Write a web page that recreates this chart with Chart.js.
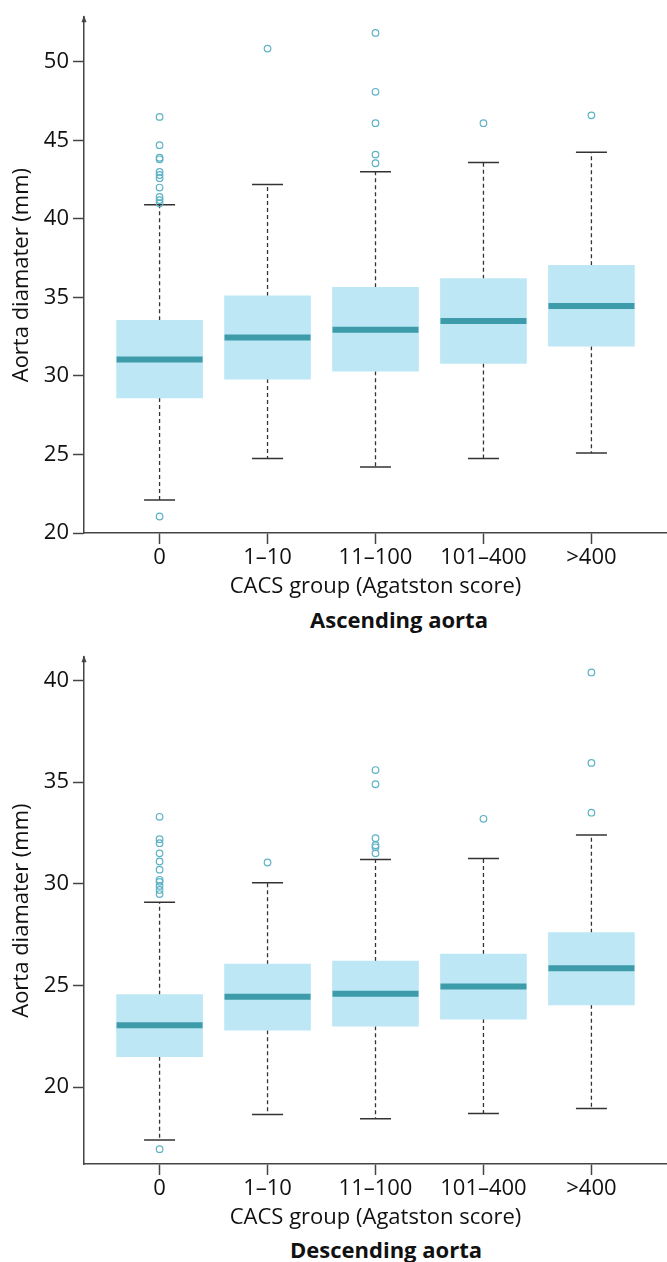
<!DOCTYPE html>
<html>
<head>
<meta charset="utf-8">
<script src="https://cdn.jsdelivr.net/npm/chart.js@4.4.1/dist/chart.umd.min.js"></script>
<style>
  html, body { margin: 0; padding: 0; background: #fff; }
  body { position: relative; width: 667px; height: 1262px; overflow: hidden; font-family: "Open Sans", sans-serif; }
  canvas { position: absolute; left: 0; }
  #ascChart { top: 0; }
  #descChart { top: 640px; }
  .caption { position: absolute; font-weight: bold; font-size: 22px; line-height: 24px; color: #111; transform: translateX(-50%); white-space: nowrap; }
  #ascCaption { left: 399px; top: 607px; }
  #descCaption { left: 386px; top: 1237px; }
</style>
</head>
<body>
<canvas id="ascChart" width="667" height="600"></canvas>
<div id="ascCaption" class="caption">Ascending aorta</div>
<canvas id="descChart" width="667" height="591"></canvas>
<div id="descCaption" class="caption">Descending aorta</div>
<script>
const categories = ["0", "1–10", "11–100", "101–400", ">400"];

// Ascending aorta (mm)
const ascLowWhisker = [22.1, 24.75, 24.2, 24.75, 25.1];
const ascQ1 = [28.6, 29.8, 30.3, 30.8, 31.9];
const ascMedian = [31.05, 32.45, 32.95, 33.5, 34.45];
const ascQ3 = [33.55, 35.1, 35.65, 36.2, 37.05];
const ascHighWhisker = [40.9, 42.2, 43.0, 43.6, 44.25];
const ascOutliers = [
  [21.05, 46.5, 44.7, 43.9, 43.8, 43.0, 42.8, 42.6, 42.0, 41.4, 41.2, 41.0],
  [50.85],
  [51.85, 48.1, 46.1, 44.1, 43.55],
  [46.1],
  [46.6]
];
const ascTicks = [20, 25, 30, 35, 40, 45, 50];

// Descending aorta (mm)
const descLowWhisker = [17.4, 18.65, 18.45, 18.7, 18.95];
const descQ1 = [21.5, 22.8, 23.0, 23.35, 24.05];
const descMedian = [23.05, 24.45, 24.6, 24.95, 25.85];
const descQ3 = [24.55, 26.05, 26.2, 26.55, 27.6];
const descHighWhisker = [29.1, 30.05, 31.2, 31.25, 32.4];
const descOutliers = [
  [16.95, 33.3, 32.2, 32.0, 31.5, 31.1, 30.7, 30.2, 30.1, 29.9, 29.7, 29.5],
  [31.05],
  [35.6, 34.9, 32.25, 31.9, 31.8, 31.5],
  [33.2],
  [40.4, 35.95, 33.5]
];
const descTicks = [20, 25, 30, 35, 40];

const BOX_FILL = "#bde7f5";
const MEDIAN_COLOR = "#3e9ba9";
const OUTLIER_COLOR = "#5db3c6";
const LINE_COLOR = "#333333";
const AXIS_COLOR = "#444444";
const TEXT_COLOR = "#111111";
const FONT = "'Open Sans', sans-serif";

// small arrow head on top of the y axis
const axisArrow = {
  id: "axisArrow",
  afterDraw(chart) {
    const { ctx, chartArea } = chart;
    const x = chartArea.left;
    const y = chartArea.top;
    ctx.save();
    ctx.fillStyle = AXIS_COLOR;
    ctx.beginPath();
    ctx.moveTo(x, y - 2);
    ctx.lineTo(x - 2.5, y + 5);
    ctx.lineTo(x + 2.5, y + 5);
    ctx.closePath();
    ctx.fill();
    ctx.restore();
  }
};

function makePanel(canvasId, lo, q1, med, q3, hi, outliers, yTicks, yMin, yMax, padTop) {
  const boxes = categories.map((c, i) => ({ x: i, y: [q1[i], q3[i]] }));
  const medians = categories.map((c, i) => ({ x: i, y: med[i] }));
  const caps = [];
  const whiskers = [];
  categories.forEach((c, i) => {
    caps.push({ x: i, y: lo[i] }, { x: i, y: hi[i] });
    whiskers.push(
      { x: i, y: q3[i] }, { x: i, y: hi[i] }, { x: i, y: null },
      { x: i, y: q1[i] }, { x: i, y: lo[i] }, { x: i, y: null }
    );
  });
  const points = [];
  outliers.forEach((vals, i) => {
    vals.forEach((v) => points.push({ x: i, y: v }));
  });

  const ctx = document.getElementById(canvasId).getContext("2d");
  return new Chart(ctx, {
    type: "bar",
    data: {
      datasets: [
        {
          type: "bar",
          data: boxes,
          backgroundColor: BOX_FILL,
          borderWidth: 0,
          barThickness: 86,
          order: 3
        },
        {
          type: "line",
          data: whiskers,
          borderColor: LINE_COLOR,
          borderWidth: 1.3,
          borderDash: [4, 3],
          pointRadius: 0,
          spanGaps: false,
          fill: false,
          order: 4
        },
        {
          type: "scatter",
          data: caps,
          pointStyle: "line",
          pointRadius: 15.5,
          borderColor: LINE_COLOR,
          borderWidth: 1.5,
          order: 2
        },
        {
          type: "scatter",
          data: medians,
          pointStyle: "line",
          pointRadius: 43,
          borderColor: MEDIAN_COLOR,
          borderWidth: 6,
          order: 1
        },
        {
          type: "scatter",
          data: points,
          pointStyle: "circle",
          pointRadius: 3.3,
          borderColor: OUTLIER_COLOR,
          backgroundColor: "rgba(255,255,255,0)",
          borderWidth: 1.2,
          order: 0
        }
      ]
    },
    options: {
      responsive: false,
      animation: false,
      events: [],
      layout: {
        autoPadding: false,
        padding: { top: padTop, right: 0, bottom: 0, left: 0 }
      },
      plugins: {
        legend: { display: false },
        tooltip: { enabled: false }
      },
      scales: {
        x: {
          type: "linear",
          min: -0.7,
          max: 4.7,
          offset: false,
          afterBuildTicks: (scale) => {
            scale.ticks = categories.map((c, i) => ({ value: i }));
          },
          afterFit: (scale) => { scale.height = 67; },
          ticks: {
            callback: (v) => categories[v],
            color: TEXT_COLOR,
            font: { family: FONT, size: 22 },
            padding: 1,
            maxRotation: 0,
            autoSkip: false
          },
          grid: {
            display: true,
            offset: false,
            drawOnChartArea: false,
            drawTicks: true,
            tickLength: 11,
            tickColor: AXIS_COLOR,
            tickWidth: 1.5
          },
          border: { display: true, color: AXIS_COLOR, width: 1.5 },
          title: {
            display: true,
            text: "CACS group (Agatston score)",
            color: TEXT_COLOR,
            font: { family: FONT, size: 22 },
            padding: { top: 0, bottom: 0 }
          }
        },
        y: {
          type: "linear",
          min: yMin,
          max: yMax,
          afterBuildTicks: (scale) => {
            scale.ticks = yTicks.map((v) => ({ value: v }));
          },
          afterFit: (scale) => { scale.width = 84; },
          ticks: {
            color: TEXT_COLOR,
            font: { family: FONT, size: 22 },
            padding: 4
          },
          grid: {
            display: true,
            drawOnChartArea: false,
            drawTicks: true,
            tickLength: 11,
            tickColor: AXIS_COLOR,
            tickWidth: 1.5
          },
          border: { display: true, color: AXIS_COLOR, width: 1.5 },
          title: {
            display: true,
            text: "Aorta diamater (mm)",
            color: TEXT_COLOR,
            font: { family: FONT, size: 22 },
            padding: { top: 9, bottom: 0 }
          }
        }
      }
    },
    plugins: [axisArrow]
  });
}

makePanel("ascChart", ascLowWhisker, ascQ1, ascMedian, ascQ3, ascHighWhisker,
  ascOutliers, ascTicks, 20, 52.85, 14);
makePanel("descChart", descLowWhisker, descQ1, descMedian, descQ3, descHighWhisker,
  descOutliers, descTicks, 16.22, 41.15, 5);
</script>
</body>
</html>
